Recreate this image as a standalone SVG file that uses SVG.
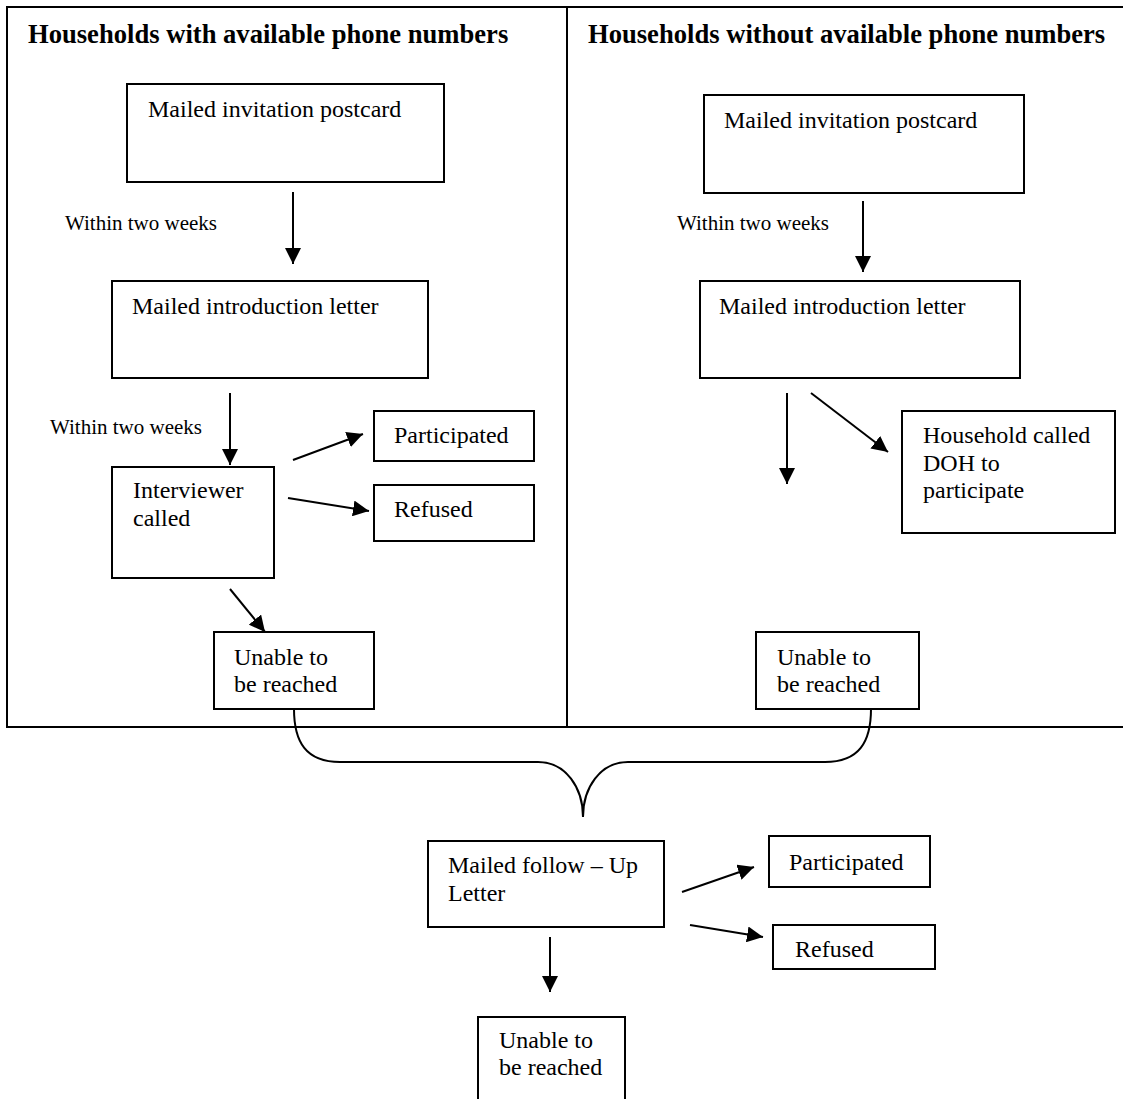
<svg xmlns="http://www.w3.org/2000/svg" width="1123" height="1099" viewBox="0 0 1123 1099">
<defs>
<style>
.box{fill:#fff;stroke:#000;stroke-width:2}
.t{font-family:"Liberation Serif","Times New Roman",serif;font-size:24px;fill:#000}
.s{font-family:"Liberation Serif","Times New Roman",serif;font-size:21px;fill:#000}
.h{font-family:"Liberation Serif","Times New Roman",serif;font-size:26.6px;font-weight:bold;fill:#000}
.frame{fill:none;stroke:#000;stroke-width:2}
.c{fill:none;stroke:#000;stroke-width:2}
.a{fill:none;stroke:#000;stroke-width:2;marker-end:url(#ah)}
</style>
<marker id="ah" markerUnits="userSpaceOnUse" markerWidth="17" markerHeight="16" refX="16" refY="8" orient="auto">
<path d="M0,0 L16,8 L0,16 z" fill="#000"/>
</marker>
</defs>
<rect width="1123" height="1099" fill="#fff"/>
<g id="frame">
<path class="frame" d="M1123,7 L7,7 L7,727 L1123,727"/>
<line class="frame" x1="567" y1="7" x2="567" y2="727"/>
<text class="h" x="28" y="43">Households with available phone numbers</text>
<text class="h" x="588" y="43">Households without available phone numbers</text>
</g>
<g id="connectors">
<line class="a" x1="293" y1="192" x2="293" y2="264"/>
<text class="s" x="65" y="230">Within two weeks</text>
<line class="a" x1="863" y1="201" x2="863" y2="272"/>
<text class="s" x="677" y="230">Within two weeks</text>
<line class="a" x1="230" y1="393" x2="230" y2="465"/>
<text class="s" x="50" y="434">Within two weeks</text>
<line class="a" x1="293" y1="460" x2="363" y2="434"/>
<line class="a" x1="288" y1="498" x2="369" y2="511"/>
<line class="a" x1="230" y1="589" x2="265" y2="632"/>
<line class="a" x1="787" y1="393" x2="787" y2="484"/>
<line class="a" x1="811" y1="393" x2="888" y2="452"/>
<path class="c" d="M294,709 C294,742 306,762 340,762 L538,762 C566,762 583,788 583,817 C583,788 600,762 628,762 L825,762 C859,762 871,742 871,709"/>
<line class="a" x1="682" y1="892" x2="754" y2="867"/>
<line class="a" x1="690" y1="925" x2="763" y2="937"/>
<line class="a" x1="550" y1="937" x2="550" y2="992"/>
</g>
<g id="n-postcard-left">
<rect class="box" x="127" y="84" width="317" height="98"/>
<text class="t" x="148" y="117">Mailed invitation postcard</text>
</g>
<g id="n-postcard-right">
<rect class="box" x="704" y="95" width="320" height="98"/>
<text class="t" x="724" y="128">Mailed invitation postcard</text>
</g>
<g id="n-intro-left">
<rect class="box" x="112" y="281" width="316" height="97"/>
<text class="t" x="132" y="314">Mailed introduction letter</text>
</g>
<g id="n-intro-right">
<rect class="box" x="700" y="281" width="320" height="97"/>
<text class="t" x="719" y="314">Mailed introduction letter</text>
</g>
<g id="n-interviewer">
<rect class="box" x="112" y="467" width="162" height="111"/>
<text class="t" x="133" y="498">Interviewer</text>
<text class="t" x="133" y="526">called</text>
</g>
<g id="n-participated-left">
<rect class="box" x="374" y="411" width="160" height="50"/>
<text class="t" x="394" y="443">Participated</text>
</g>
<g id="n-refused-left">
<rect class="box" x="374" y="485" width="160" height="56"/>
<text class="t" x="394" y="517">Refused</text>
</g>
<g id="n-household-called">
<rect class="box" x="902" y="411" width="213" height="122"/>
<text class="t" x="923" y="443">Household called</text>
<text class="t" x="923" y="471">DOH to</text>
<text class="t" x="923" y="498">participate</text>
</g>
<g id="n-unable-left">
<rect class="box" x="214" y="632" width="160" height="77"/>
<text class="t" x="234" y="665">Unable to</text>
<text class="t" x="234" y="692">be reached</text>
</g>
<g id="n-unable-right">
<rect class="box" x="756" y="632" width="163" height="77"/>
<text class="t" x="777" y="665">Unable to</text>
<text class="t" x="777" y="692">be reached</text>
</g>
<g id="n-followup">
<rect class="box" x="428" y="841" width="236" height="86"/>
<text class="t" x="448" y="873">Mailed follow – Up</text>
<text class="t" x="448" y="901">Letter</text>
</g>
<g id="n-participated-bottom">
<rect class="box" x="769" y="836" width="161" height="51"/>
<text class="t" x="789" y="870">Participated</text>
</g>
<g id="n-refused-bottom">
<rect class="box" x="773" y="925" width="162" height="44"/>
<text class="t" x="795" y="957">Refused</text>
</g>
<g id="n-unable-bottom">
<rect class="box" x="478" y="1017" width="147" height="95"/>
<text class="t" x="499" y="1048">Unable to</text>
<text class="t" x="499" y="1075">be reached</text>
</g>
</svg>
